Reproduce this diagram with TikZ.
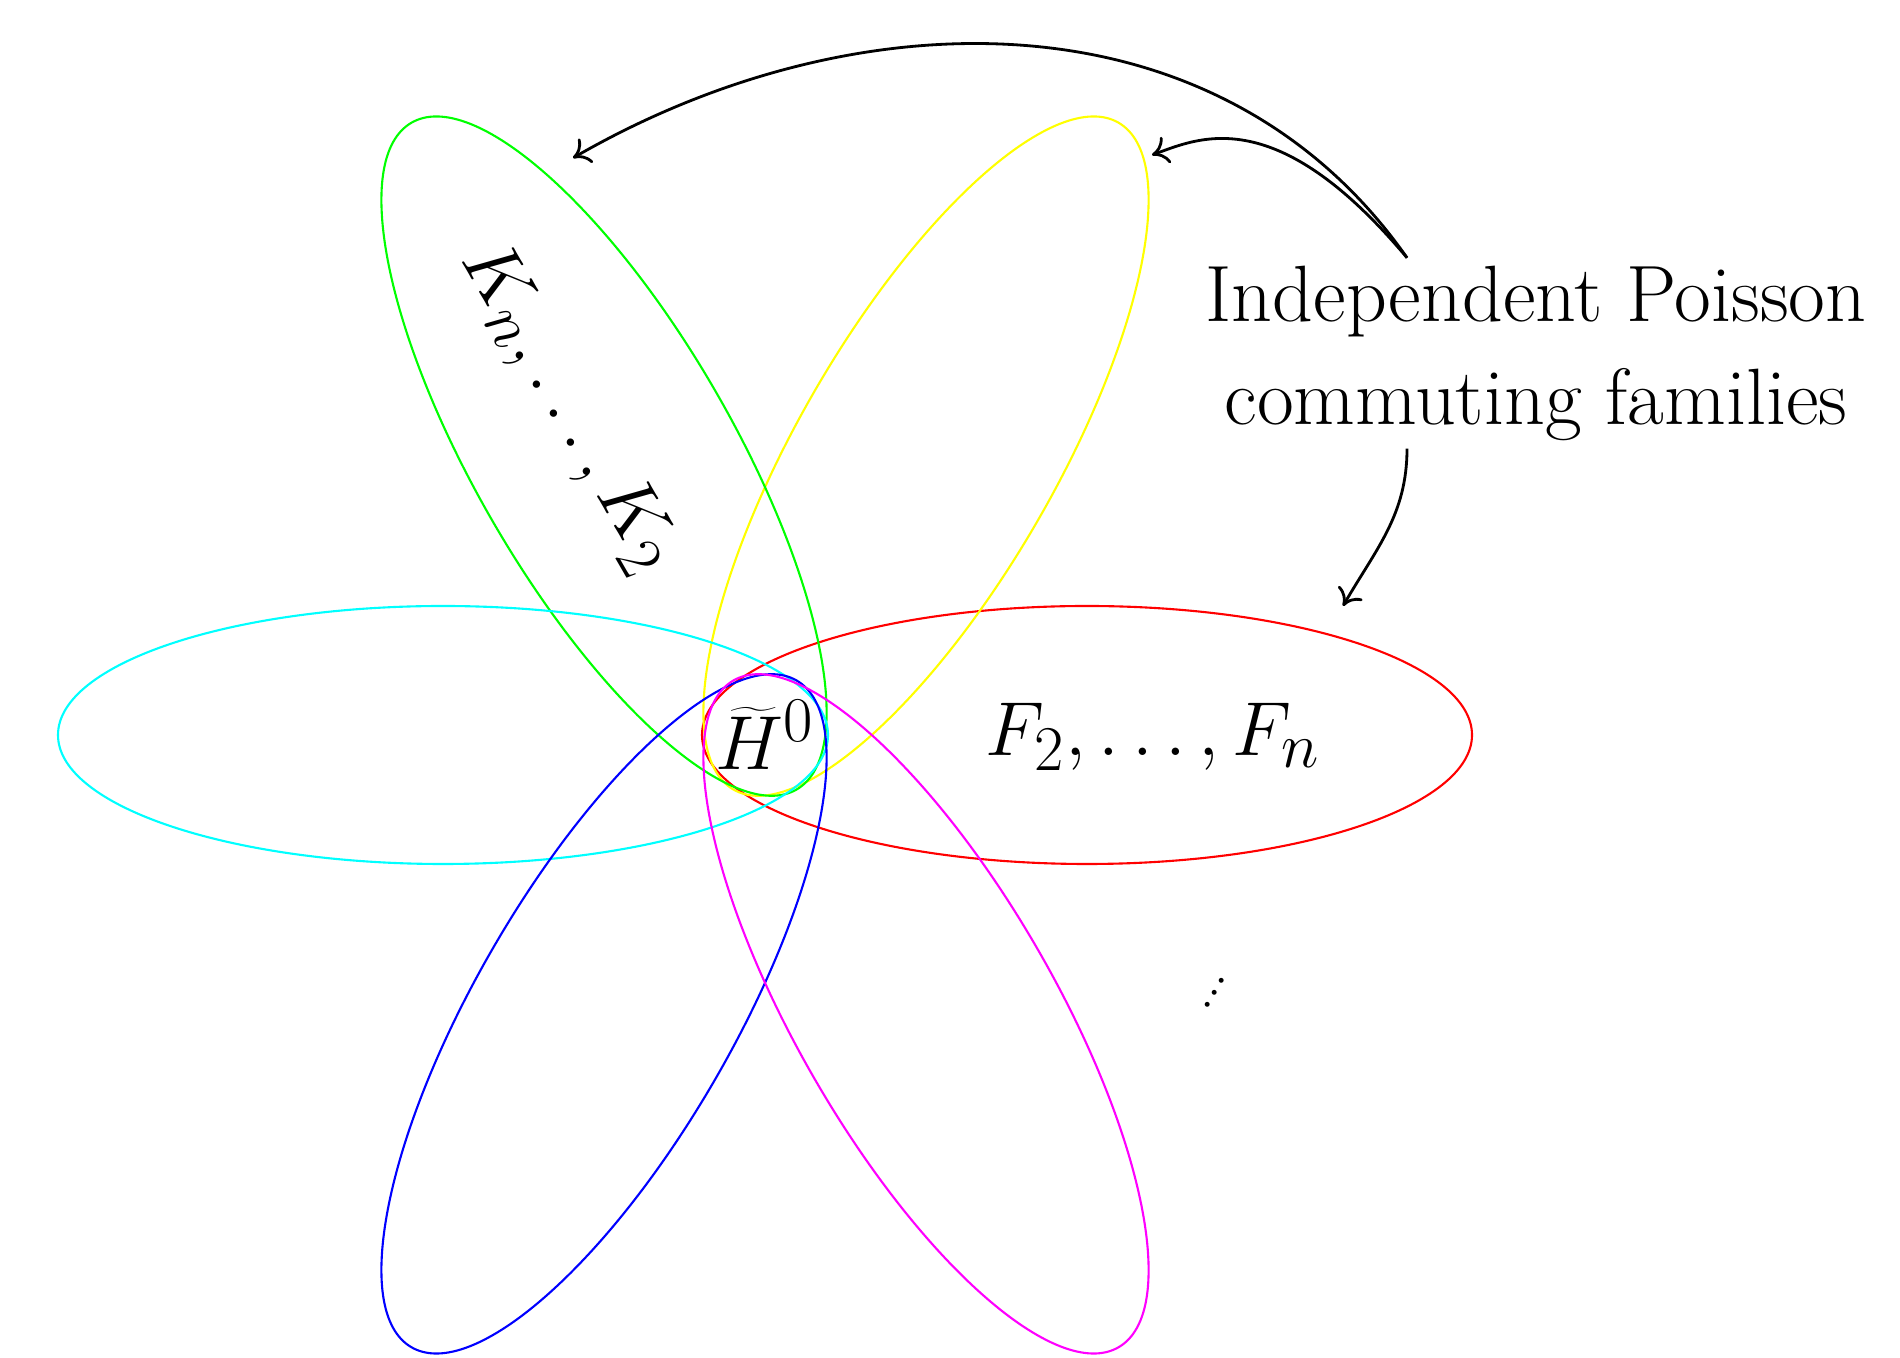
\documentclass[tikz,border=0pt]{standalone}
\usetikzlibrary{arrows.meta}
\definecolor{pred}{RGB}{255,0,0}
\definecolor{pyel}{RGB}{255,255,0}
\definecolor{pgrn}{RGB}{0,255,0}
\definecolor{pcyn}{RGB}{0,255,255}
\definecolor{pblu}{RGB}{0,0,255}
\definecolor{pmag}{RGB}{255,0,255}
\newcommand{\lblbox}[1]{\scalebox{0.875}{#1}}

\begin{document}
\begin{tikzpicture}[
        petal/.style={semithick},
        lbl/.style={font=\Huge},
        arr/.style={thick, -{To[length=4.5pt, width=8pt]}},
    ]
        \useasboundingbox (0,0) rectangle (19,13.57);

        % Six petals round the centre
        \begin{scope}[shift={(7.65,6.22)}]
            \draw[petal, pred] (3.22,0) ellipse (3.85 and 1.29);
            \draw[petal, pyel, rotate=60] (3.22,0) ellipse (3.85 and 1.29);
            \draw[petal, pgrn, rotate=120] (3.22,0) ellipse (3.85 and 1.29);
            \draw[petal, pcyn, rotate=180] (3.22,0) ellipse (3.85 and 1.29);
            \draw[petal, pblu, rotate=240] (3.22,0) ellipse (3.85 and 1.29);
            \draw[petal, pmag, rotate=300] (3.22,0) ellipse (3.85 and 1.29);
        \end{scope}

        % Labels
        \node[lbl] (H) at (7.65, 6.22) {\lblbox{$\widetilde{H}^0$}};
        \node[lbl] (F) at (11.53, 6.20) {\lblbox{$F_2,\dots,F_n$}};
        \node[lbl, rotate=-60] (K) at (5.68, 9.49) {\lblbox{$K_n,\dots,K_2$}};
        \node[font=\Large, rotate=-30] (DOTS) at (12.20, 3.73) {$\vdots$};
        \node[lbl, inner sep=0pt] (FAM) at (15.36, 10.03)
            {\scalebox{0.914}{\begin{tabular}{@{}c@{}}Independent Poisson\\[2.2pt] commuting families\end{tabular}}};

        % Arrow ends
        \coordinate (FAMN) at ([xshift=-12.9mm, yshift=-0.44mm]FAM.north);
        \coordinate (FAMS) at ([xshift=-12.9mm, yshift=0.6mm]FAM.south);
        \coordinate (TOK) at (5.73, 11.99);
        \coordinate (TOY) at (11.52, 12.02);
        \coordinate (TOF) at (13.43, 7.51);

        \draw[arr] (FAMN) to[out=125, in=30] (TOK);
        \draw[arr] (FAMN) to[out=130, in=20, out looseness=1.9, in looseness=0.47] (TOY);
        \draw[arr] (FAMS) to[out=-90, in=60] (TOF);
    \end{tikzpicture}
\end{document}
